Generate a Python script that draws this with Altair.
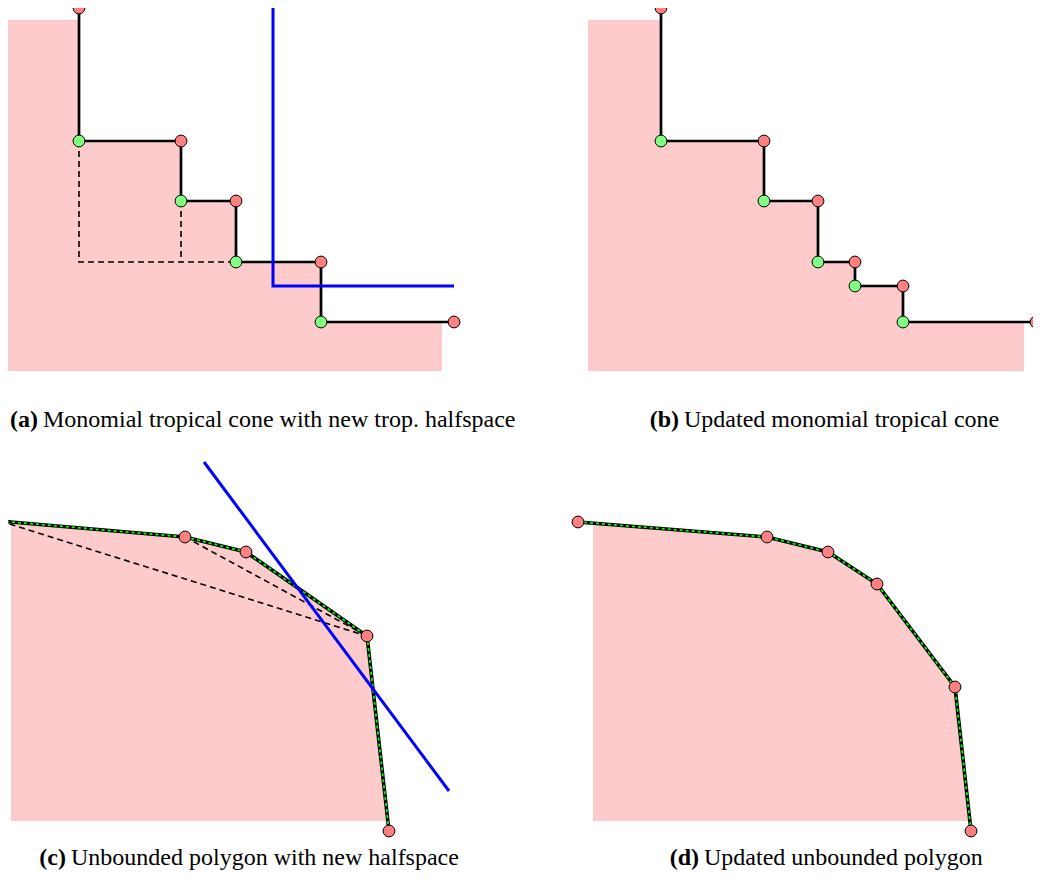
import altair as alt
import pandas as pd

# ---------------- data (diagram coordinates) ----------------
# Panel (a): staircase vertices (alternating outer/inner corners)
a_vx = [79, 79, 181, 181, 236, 236, 321, 321, 454]
a_vy = [8, 141, 141, 201, 201, 262, 262, 322, 322]
a_kind = ["r", "g", "r", "g", "r", "g", "r", "g", "r"]
a_fill_box = [7, 20, 442, 371]  # left, top, right, bottom
a_dash1_x = [79, 79, 236]
a_dash1_y = [141, 262, 262]
a_dash2_x = [181, 181]
a_dash2_y = [201, 262]
a_blue_x = [273, 273, 454]
a_blue_y = [8, 286, 286]

# Panel (b): updated staircase
b_vx = [661, 661, 764, 764, 818, 818, 855, 855, 903, 903, 1036]
b_vy = [8, 141, 141, 201, 201, 262, 262, 286, 286, 322, 322]
b_kind = ["r", "g", "r", "g", "r", "g", "r", "g", "r", "g", "r"]
b_fill_box = [588, 20, 1024, 371]

# Panel (c): unbounded polygon with new halfspace
c_vx = [0, 185, 246, 367, 389]
c_vy = [521, 537, 552, 636, 831]
c_fill_left, c_fill_bottom = 11, 821
c_dash1_x = [0, 367]
c_dash1_y = [521, 636]
c_dash2_x = [185, 367]
c_dash2_y = [537, 636]
c_blue_x = [204, 449]
c_blue_y = [462, 791]

# Panel (d): updated polygon
d_vx = [578, 767, 828, 877, 955, 971]
d_vy = [522, 537, 552, 584, 687, 831]
d_fill_left, d_fill_bottom = 593, 821

# Captions: (label, text, label right edge, text left edge, baseline)
cap_labels = ["(a)", "(b)", "(c)", "(d)"]
cap_texts = ["Monomial tropical cone with new trop. halfspace",
             "Updated monomial tropical cone",
             "Unbounded polygon with new halfspace",
             "Updated unbounded polygon"]
cap_label_right = [38, 679, 66, 699]
cap_text_left = [43, 684, 71, 704]
cap_base = [427, 427, 865, 865]

# ---------------- helpers ----------------
XS = alt.Scale(domain=[8, 1033], nice=False, zero=False)
YS = alt.Scale(domain=[8, 870], nice=False, zero=False, reverse=True)
PINK = "#FDCBCB"


def X(f="x"):
    return alt.X(f"{f}:Q", scale=XS, axis=None)


def Y(f="y"):
    return alt.Y(f"{f}:Q", scale=YS, axis=None)


def stair_fill(vx, vy, kind, box):
    left, top, right, bottom = box
    xs = [left] + [x for x, k in zip(vx, kind) if k == "g"]
    ys = [top] + [y for y, k in zip(vy, kind) if k == "g"]
    xs.append(right)
    ys.append(ys[-1])
    return pd.DataFrame({"x": xs, "y": ys, "y2": bottom})


def poly_fill(vx, vy, left, bottom):
    pts = []
    for i in range(len(vx) - 1):
        x0, y0, x1, y1 = vx[i], vy[i], vx[i + 1], vy[i + 1]
        if x0 < left <= x1:
            t = (left - x0) / (x1 - x0)
            pts.append((left, y0 + t * (y1 - y0)))
        if x0 >= left and y0 < bottom:
            pts.append((x0, y0))
        if y0 < bottom <= y1:
            t = (bottom - y0) / (y1 - y0)
            pts.append((x0 + t * (x1 - x0), bottom))
    return pd.DataFrame({"x": [p[0] for p in pts], "y": [p[1] for p in pts], "y2": bottom})


def segs(*paths):
    rows = []
    for gi, (xs, ys) in enumerate(paths):
        for oi, (x, y) in enumerate(zip(xs, ys)):
            rows.append({"x": x, "y": y, "seg": gi, "ord": oi})
    return pd.DataFrame(rows)


def line_layer(df, **mk):
    return alt.Chart(df).mark_line(**mk).encode(
        x=X(), y=Y(), detail="seg:N", order=alt.Order("ord:Q"))


def fill_layer(df, interp):
    return alt.Chart(df).mark_area(color=PINK, opacity=1, interpolate=interp).encode(
        x=X(), y=Y(), y2="y2:Q")


# ---------------- layers ----------------
fills = [
    fill_layer(stair_fill(a_vx, a_vy, a_kind, a_fill_box), "step-after"),
    fill_layer(stair_fill(b_vx, b_vy, b_kind, b_fill_box), "step-after"),
    fill_layer(poly_fill(c_vx, c_vy, c_fill_left, c_fill_bottom), "linear"),
    fill_layer(poly_fill(d_vx, d_vy, d_fill_left, d_fill_bottom), "linear"),
]

dashed = line_layer(
    segs((a_dash1_x, a_dash1_y), (a_dash2_x, a_dash2_y),
         (c_dash1_x, c_dash1_y), (c_dash2_x, c_dash2_y)),
    color="black", strokeWidth=1.6, strokeDash=[6, 4])

stairs = line_layer(segs((a_vx, a_vy), (b_vx, b_vy)),
                    color="black", strokeWidth=2.7)

polys_black = line_layer(segs((c_vx, c_vy), (d_vx, d_vy)),
                         color="black", strokeWidth=3.6)
polys_green = line_layer(segs((c_vx, c_vy), (d_vx, d_vy)),
                         color="#00FF00", strokeWidth=1.8, strokeDash=[3, 3])

blue = line_layer(segs((a_blue_x, a_blue_y), (c_blue_x, c_blue_y)),
                  color="#0000FF", strokeWidth=3)

pts_df = pd.DataFrame({
    "x": a_vx + b_vx + c_vx + d_vx,
    "y": a_vy + b_vy + c_vy + d_vy,
    "k": a_kind + b_kind + ["r"] * len(c_vx) + ["r"] * len(d_vx),
})
points = alt.Chart(pts_df).mark_point(filled=True, size=140, stroke="black",
                                      strokeWidth=1, opacity=1).encode(
    x=X(), y=Y(),
    fill=alt.Fill("k:N", scale=alt.Scale(domain=["r", "g"], range=["#FF8080", "#80FF80"]),
                  legend=None))

cap_df = pd.DataFrame({"lab": cap_labels, "txt": cap_texts, "xl": cap_label_right,
                       "xt": cap_text_left, "y": cap_base})
cap_lab = alt.Chart(cap_df).mark_text(font="Liberation Serif", fontSize=24, fontWeight="bold",
                                      align="right", baseline="alphabetic", color="black").encode(
    x=X("xl"), y=Y(), text="lab:N")
cap_txt = alt.Chart(cap_df).mark_text(font="Liberation Serif", fontSize=24,
                                      align="left", baseline="alphabetic", color="black").encode(
    x=X("xt"), y=Y(), text="txt:N")

chart = alt.layer(*fills, dashed, stairs, polys_black, polys_green, blue, points,
                  cap_lab, cap_txt).properties(
    width=1025, height=862, padding=0, autosize="none"
).configure_view(stroke=None)

chart.save("out.html", embed_options={"renderer": "svg", "actions": False})
